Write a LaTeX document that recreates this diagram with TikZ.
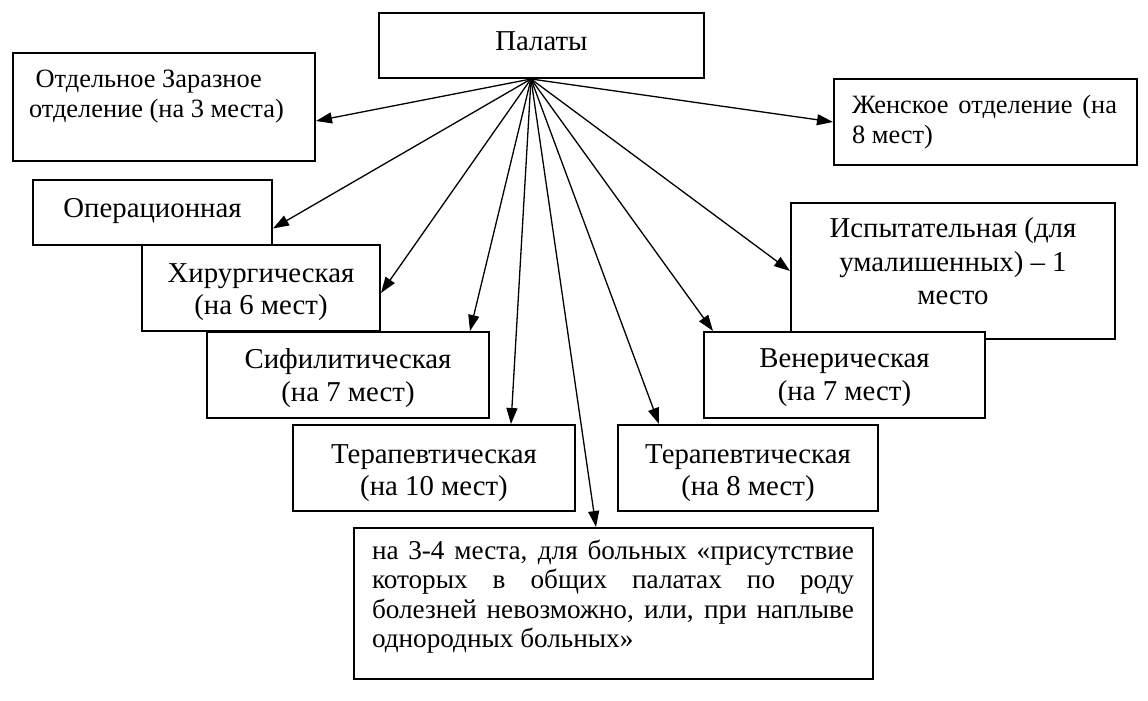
\documentclass[tikz,border=0pt]{standalone}
\usepackage{fontspec}
\setmainfont{Liberation Serif}
\usetikzlibrary{arrows.meta}
\newcommand{\mainsz}{\fontsize{14.4pt}{16.25pt}\selectfont}
\newcommand{\cbox}[4]{\parbox[t][#2][t]{#1}{\centering\mainsz\rule{0pt}{#3}#4}}
\begin{document}
\begin{tikzpicture}[x=0.5pt,y=-0.5pt,
  box/.style={draw, fill=white, line width=1pt, inner sep=0pt, anchor=north west},
  arr/.style={line width=0.65pt, -{Triangle[length=8pt,width=5.5pt]}}]
\useasboundingbox (0,0) rectangle (1148,701);

\node[box] (pal) at (378,12) {\cbox{162.5pt}{32.5pt}{19pt}{Палаты}};

\node[box] (otd) at (12,52)
  {\parbox[t][54pt][t]{151pt}{\raggedright\fontsize{13.2pt}{15pt}\selectfont\leftskip=8pt\rule{0pt}{17.5pt}\ Отдельное Заразное\\отделение (на 3 места)}};

\node[box] (zhen) at (833,78)
  {\parbox[t][43pt][t]{151.5pt}{\raggedright\fontsize{13.2pt}{15pt}\selectfont\leftskip=9pt\rule{0pt}{17.5pt}\makebox[132.5pt][s]{Женское отделение (на}\\8 мест)}};

\node[box] (oper) at (32,179) {\cbox{119.5pt}{32.5pt}{19pt}{Операционная}};
\node[box] (hir) at (141,244) {\cbox{119pt}{43pt}{18.75pt}{Хирургическая\\(на 6 мест)}};
\node[box] (sif) at (206,331) {\cbox{141pt}{43pt}{18.5pt}{Сифилитическая\\(на 7 мест)}};
\node[box] (ter10) at (292,424) {\cbox{141pt}{43pt}{19pt}{Терапевтическая\\(на 10 мест)}};
\node[box] (ter8) at (617,424) {\cbox{130pt}{43pt}{19pt}{Терапевтическая\\(на 8 мест)}};
\node[box] (isp) at (790,202)
  {\parbox[t][68pt][t]{162pt}{\centering\fontsize{14.4pt}{16.75pt}\selectfont\rule{0pt}{17.5pt}Испытательная (для\\умалишенных) – 1\\место}};
\node[box] (ven) at (703,331) {\cbox{140.5pt}{43pt}{18pt}{Венерическая\\(на 7 мест)}};

\node[box] (bot) at (353,527)
  {\parbox[t][75.5pt][t]{259.5pt}{\raggedright\fontsize{13.6pt}{14.75pt}\selectfont\leftskip=9pt\rule{0pt}{15.75pt}\makebox[241pt][s]{на 3-4 места, для больных «присутствие}\\\makebox[241pt][s]{которых в общих палатах по роду}\\\makebox[241pt][s]{болезней невозможно, или, при наплыве}\\однородных больных»}};

\draw[arr] ([xshift=-5.25pt]pal.south) -- ([yshift=-7pt]otd.east);
\draw[arr] ([xshift=-5.25pt]pal.south) -- (zhen.west);
\draw[arr] ([xshift=-5.25pt]pal.south) -- ([yshift=-8pt]oper.east);
\draw[arr] ([xshift=-5.25pt]pal.south) -- ([yshift=-2.5pt]hir.east);
\draw[arr] ([xshift=-5.25pt]pal.south) -- ([xshift=-10pt]sif.north east);
\draw[arr] ([xshift=-5.25pt]pal.south) -- ([xshift=-32.5pt]ter10.north east);
\draw[arr] ([xshift=-5.25pt]pal.south) -- ([xshift=121.5pt]bot.north west);
\draw[arr] ([xshift=-5.25pt]pal.south) -- ([xshift=21pt]ter8.north west);
\draw[arr] ([xshift=-5.25pt]pal.south) -- ([xshift=5pt]ven.north west);
\draw[arr] ([xshift=-5.25pt]pal.south) -- (isp.west);
\end{tikzpicture}
\end{document}
